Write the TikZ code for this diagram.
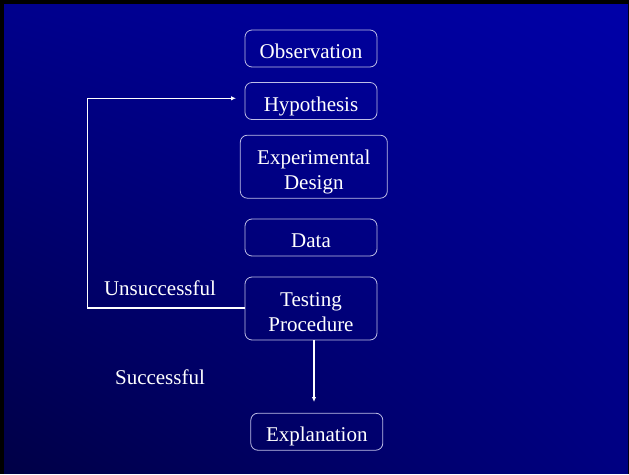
\documentclass[tikz,border=0pt]{standalone}
\usepackage{fontspec}
\setmainfont{Liberation Serif}
\usetikzlibrary{arrows.meta,shadings}
\definecolor{ulc}{RGB}{0,0,140}
\definecolor{urc}{RGB}{0,0,168}
\definecolor{llc}{RGB}{0,0,70}
\definecolor{lrc}{RGB}{0,0,130}
\definecolor{boxline}{RGB}{190,190,230}
\tikzset{
  stepbox/.style={draw=boxline, line width=0.8pt, rounded corners=7pt, text=white, align=center,
    font=\fontsize{21}{25}\selectfont, inner sep=0pt},
  onebox/.style={stepbox, minimum width=132pt, minimum height=37pt, text height=25pt, text depth=5pt},
  twobox/.style={stepbox, minimum height=63pt, text height=51pt, text depth=5pt},
  lbl/.style={text=white, font=\fontsize{21}{25}\selectfont, inner sep=0pt},
  conn/.style={draw=white, line width=1.6pt, -{Latex[length=5pt,width=4.5pt]}},
}
\begin{document}
\begin{tikzpicture}[x=1pt,y=-1pt]
\useasboundingbox (0,0) rectangle (629,474);
\fill[black] (0,0) rectangle (629,474);
\shade[upper left=ulc, upper right=urc, lower left=llc, lower right=lrc] (4,4) rectangle (628,473);
\node[onebox] (obs) at (311,48.5) {Observation};
\node[onebox] (hyp) at (311,101) {Hypothesis};
\node[twobox, minimum width=147pt] (exp) at (313.8,166.7) {Experimental\\Design};
\node[onebox] (dat) at (311,237.5) {Data};
\node[twobox, minimum width=132pt] (tst) at (311,308.5) {Testing\\Procedure};
\node[onebox] (expl) at (316.8,431.7) {Explanation};
\node[lbl] (uns) at (160,288) {Unsuccessful};
\node[lbl] (suc) at (160,377) {Successful};
\coordinate (c1) at (87.5,307.7);
\coordinate (c2) at (87.5,98.3);
\coordinate (tip1) at (236,98.3);
\coordinate (tip2) at (314,402);
\draw[conn] (tst.west |- c1) -- (c1) -- (c2) -- (tip1);
\draw[conn] (tst.south -| tip2) -- (tip2);
\end{tikzpicture}
\end{document}
